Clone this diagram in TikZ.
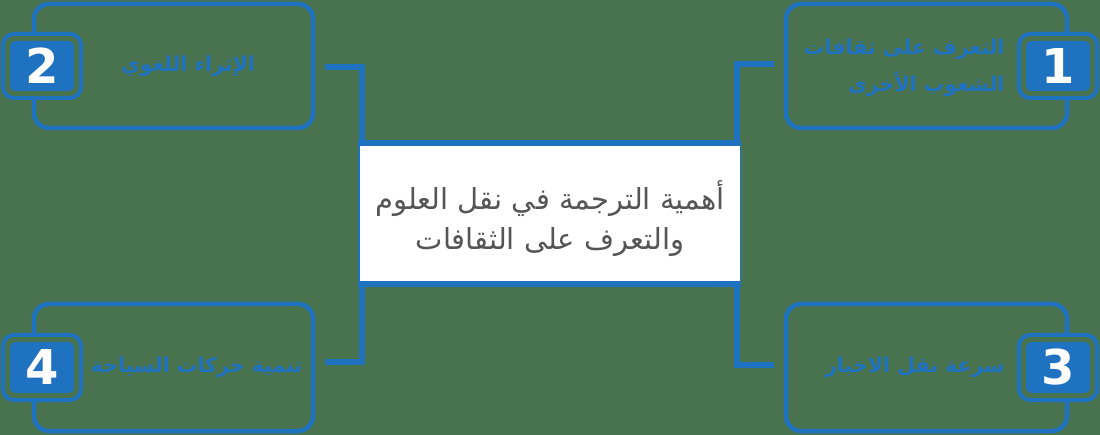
\documentclass[tikz,border=0pt]{standalone}
\usepackage{fontspec}
\TeXXeTstate=1
\newfontfamily\arabicfont[Script=Arabic]{DejaVu Sans}
\setmainfont{DejaVu Sans}
\definecolor{bg}{HTML}{4A7350}
\definecolor{blu}{HTML}{1F72BF}
\definecolor{txtgray}{HTML}{555555}
\tikzset{
  card/.style={draw=blu,line width=4.5pt,rounded corners=15pt},
  badgeout/.style={draw=blu,fill=bg,line width=4pt,rounded corners=11pt},
  badgein/.style={fill=blu,rounded corners=5pt},
  numtext/.style={text=white,font=\fontsize{48}{48}\selectfont\bfseries},
  cardtext/.style={text=blu,font=\arabicfont\bfseries\fontsize{20.5}{37}\selectfont},
  conn/.style={draw=blu,line width=5.5pt},
}
\begin{document}
\begin{tikzpicture}[x=1pt,y=-1pt]
\useasboundingbox[fill=bg] (0,0) rectangle (1100,435);
% central box
\coordinate (ctl) at (362,143);
\coordinate (ctr) at (737,143);
\coordinate (cbl) at (362,284);
\coordinate (cbr) at (737,284);
\fill[blu] (358,140) rectangle (741,287);
\fill[white] (360,146) rectangle (740,281);
\node[text=txtgray,align=center,font=\arabicfont\fontsize{29}{40}\selectfont] (center) at (550,219)
  {\beginR أهمية الترجمة في نقل العلوم\endR\\\beginR والتعرف على الثقافات\endR};
% connectors
\coordinate (c2) at (325,67);
\coordinate (c4) at (325,362);
\coordinate (c1) at (774,64);
\coordinate (c3) at (774,365);
\draw[conn] (c2) -- (ctl |- c2) -- (ctl);
\draw[conn] (c4) -- (cbl |- c4) -- (cbl);
\draw[conn] (c1) -- (ctr |- c1) -- (ctr);
\draw[conn] (c3) -- (cbr |- c3) -- (cbr);
% cards
\draw[card] (34,4) rectangle (313,128);
\draw[card] (786,4) rectangle (1067,128);
\draw[card] (34,304) rectangle (313,431);
\draw[card] (786,304) rectangle (1067,431);
% badges
\draw[badgeout] (3,34) rectangle (81,98);
\fill[badgein] (10,41) rectangle (74,91);
\node[numtext] (n2) at (42,66) {2};
\draw[badgeout] (1019,34) rectangle (1097,98);
\fill[badgein] (1026,41) rectangle (1090,91);
\node[numtext] (n1) at (1058,66) {1};
\draw[badgeout] (3,335) rectangle (81,400);
\fill[badgein] (10,342) rectangle (74,393);
\node[numtext] (n4) at (42,367) {4};
\draw[badgeout] (1019,335) rectangle (1097,400);
\fill[badgein] (1026,342) rectangle (1090,393);
\node[numtext] (n3) at (1058,367) {3};
% texts
\node[cardtext] (t2) at (188,66) {\beginR الإثراء اللغوي\endR};
\node[cardtext,anchor=east,align=right] (t1) at (1008,68) {\beginR التعرف على ثقافات\endR\\\beginR الشعوب الأخرى\endR};
\node[cardtext,anchor=east] (t4) at (306,367) {\beginR تنمية حركات السياحة\endR};
\node[cardtext,anchor=east] (t3) at (1008,367) {\beginR سرعة نقل الاخبار\endR};
\end{tikzpicture}
\end{document}
